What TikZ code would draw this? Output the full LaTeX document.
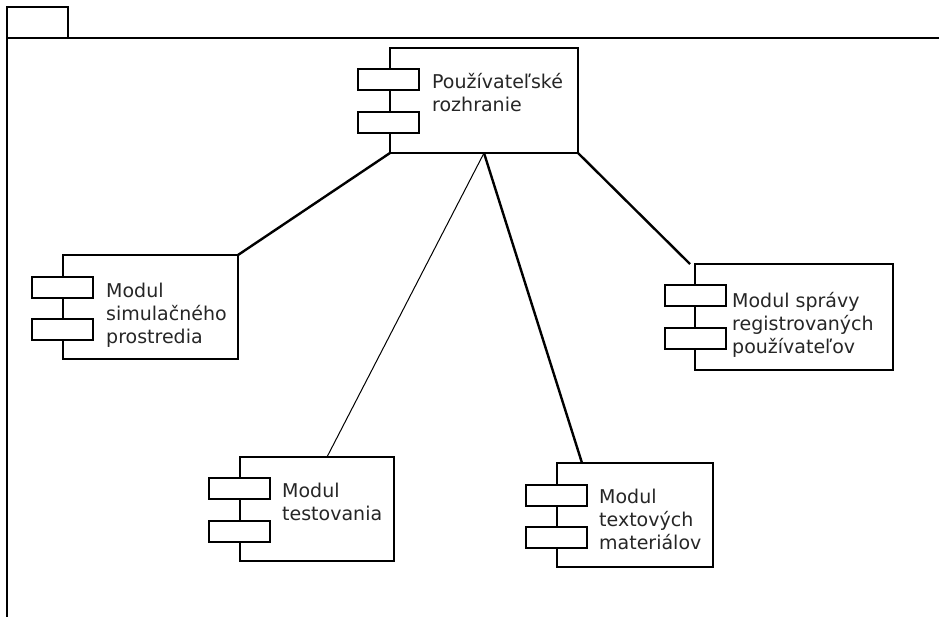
\documentclass[tikz,border=0pt]{standalone}
\usepackage{fontspec}
\setmainfont{DejaVu Sans}
\usetikzlibrary{calc}
\begin{document}
\begin{tikzpicture}[x=1pt,y=-1pt,
  frameline/.style={line width=2.6pt,line cap=rect},
  compbox/.style={draw,fill=white,line width=2pt,rectangle,anchor=north west,inner sep=0pt,outer sep=0pt},
  portbox/.style={draw,fill=white,line width=2pt,rectangle,anchor=north west,inner sep=0pt,outer sep=0pt,minimum width=61pt,minimum height=21pt},
  label/.style={anchor=base west,inner sep=0pt,align=left,text=black!85,font=\fontsize{19}{23}\selectfont},
  link/.style={line width=2.4pt},
  thinlink/.style={line width=1pt}]
\useasboundingbox (0,0) rectangle (939,617);
% package frame with its tab
\draw[frameline] (7,617) -- (7,7) -- (68,7) -- (68,38);
\draw[frameline] (7,38) -- (939,38);

% components (labels are placed by the baseline of their last line)
\node[compbox,minimum width=188pt,minimum height=105pt] (ui) at (390,48) {};
\node[portbox] (uip1) at (358,69) {};
\node[portbox] (uip2) at (358,112) {};
\node[label] (uit) at (432,112) {Používateľské\\rozhranie};

\node[compbox,minimum width=175pt,minimum height=104pt] (sim) at (63,255) {};
\node[portbox] (simp1) at (32,277) {};
\node[portbox] (simp2) at (32,319) {};
\node[label] (simt) at (106,343) {Modul\\simulačného\\prostredia};

\node[compbox,minimum width=198pt,minimum height=106pt] (adm) at (695,264) {};
\node[portbox] (admp1) at (665,285) {};
\node[portbox] (admp2) at (665,328) {};
\node[label] (admt) at (732,353) {Modul správy\\registrovaných\\používateľov};

\node[compbox,minimum width=154pt,minimum height=104pt] (test) at (240,457) {};
\node[portbox] (testp1) at (209,478) {};
\node[portbox] (testp2) at (209,521) {};
\node[label] (testt) at (282,520) {Modul\\testovania};

\node[compbox,minimum width=156pt,minimum height=104pt] (mat) at (557,463) {};
\node[portbox] (matp1) at (526,485) {};
\node[portbox] (matp2) at (526,527) {};
\node[label] (matt) at (599,549) {Modul\\textových\\materiálov};

% connectors
\draw[link] (ui.south west) -- (sim.north east);
\draw[link] (ui.south east) -- ($(adm.north west)+(-5,0)$);
\draw[thinlink] (ui.south) -- ($(test.north)+(10,0)$);
\draw[link] (ui.south) -- ($(mat.north west)+(25,0)$);
\end{tikzpicture}
\end{document}
